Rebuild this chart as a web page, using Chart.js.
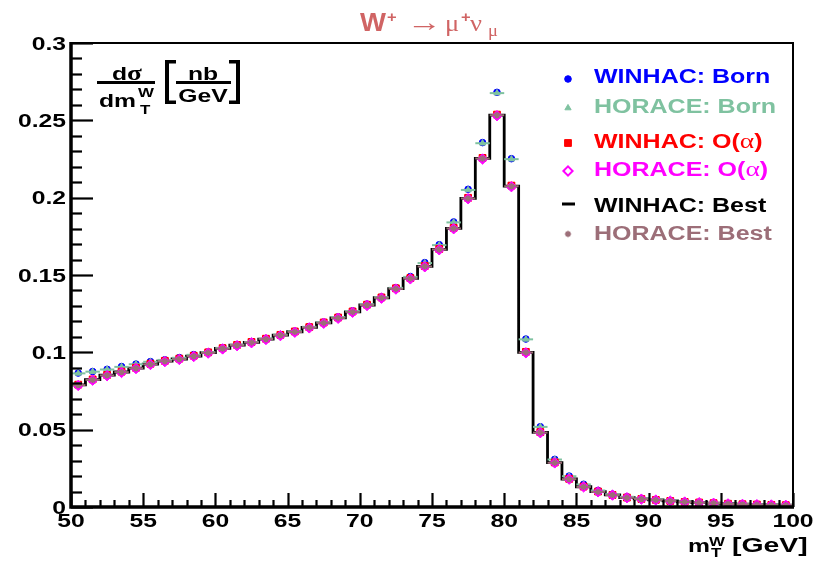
<!DOCTYPE html>
<html><head><meta charset="utf-8">
<script src="https://cdn.jsdelivr.net/npm/chart.js@4/dist/chart.umd.min.js"></script>
<style>html,body{margin:0;padding:0;background:#fff;}canvas{display:block;}</style>
</head><body>
<canvas id="c" width="831" height="562"></canvas>
<script>
// ---------- DATA ----------
const binEdges = [50,51,52,53,54,55,56,57,58,59,60,61,62,63,64,65,66,67,68,69,70,71,72,73,74,75,76,77,78,79,80,81,82,83,84,85,86,87,88,89,90,91,92,93,94,95,96,97,98,99,100];
const xTickValues = [50,55,60,65,70,75,80,85,90,95,100];
const xTickLabels = ['50','55','60','65','70','75','80','85','90','95','100'];
const yTickValues = [0,0.05,0.1,0.15,0.2,0.25,0.3];
const yTickLabels = ['0','0.05','0.1','0.15','0.2','0.25','0.3'];
const seriesLabels = ['WINHAC: Born','HORACE: Born','WINHAC: O(α)','HORACE: O(α)','WINHAC: Best','HORACE: Best'];

const winhacBorn = [0.0866,0.0876,0.0890,0.0908,0.0924,0.0940,0.0952,0.0966,0.0985,0.1002,
  0.1030,0.1050,0.1068,0.1090,0.1115,0.1137,0.1166,0.1196,0.1229,0.1268,
  0.1312,0.1358,0.1418,0.1490,0.1580,0.1696,0.1843,0.2054,0.2356,0.2681,
  0.2252,0.1086,0.0519,0.0308,0.0200,0.0147,0.0107,0.0083,0.0066,0.0055,
  0.0048,0.0041,0.0035,0.0030,0.0026,0.0022,0.0019,0.0017,0.0015,0.0013];
const horaceBorn = [0.0864,0.0875,0.0889,0.0906,0.0923,0.0939,0.0951,0.0965,0.0984,0.1001,
  0.1029,0.1049,0.1067,0.1089,0.1114,0.1136,0.1165,0.1195,0.1228,0.1267,
  0.1311,0.1357,0.1417,0.1488,0.1577,0.1693,0.1840,0.2050,0.2352,0.2676,
  0.2249,0.1084,0.0518,0.0307,0.0199,0.0146,0.0107,0.0083,0.0066,0.0055,
  0.0048,0.0041,0.0035,0.0030,0.0026,0.0022,0.0019,0.0017,0.0015,0.0013];
const winhacOalpha = [0.0791,0.0825,0.0854,0.0875,0.0900,0.0926,0.0945,0.0959,0.0978,0.1000,
  0.1027,0.1048,0.1067,0.1088,0.1113,0.1135,0.1163,0.1193,0.1225,0.1264,
  0.1308,0.1355,0.1414,0.1480,0.1558,0.1668,0.1805,0.1999,0.2257,0.2537,
  0.2078,0.1003,0.0484,0.0288,0.0182,0.0132,0.0100,0.0078,0.0061,0.0052,
  0.0046,0.0039,0.0033,0.0029,0.0025,0.0021,0.0018,0.0016,0.0014,0.0012];
const horaceOalpha = [0.0786,0.0820,0.0849,0.0870,0.0895,0.0921,0.0940,0.0954,0.0973,0.0995,
  0.1022,0.1043,0.1062,0.1083,0.1108,0.1130,0.1158,0.1188,0.1220,0.1259,
  0.1303,0.1350,0.1409,0.1475,0.1553,0.1663,0.1799,0.1993,0.2250,0.2530,
  0.2071,0.0997,0.0480,0.0285,0.0180,0.0130,0.0098,0.0077,0.0060,0.0051,
  0.0045,0.0038,0.0032,0.0028,0.0024,0.0020,0.0017,0.0015,0.0013,0.0011];
const winhacBest = [0.0789,0.0823,0.0852,0.0873,0.0898,0.0924,0.0943,0.0957,0.0976,0.0998,
  0.1025,0.1046,0.1065,0.1086,0.1111,0.1133,0.1161,0.1191,0.1223,0.1262,
  0.1306,0.1353,0.1412,0.1478,0.1556,0.1666,0.1802,0.1996,0.2254,0.2534,
  0.2075,0.1000,0.0482,0.0287,0.0181,0.0131,0.0099,0.0078,0.0061,0.0052,
  0.0046,0.0039,0.0033,0.0029,0.0025,0.0021,0.0018,0.0016,0.0014,0.0012];
const horaceBest = [0.0788,0.0822,0.0851,0.0872,0.0897,0.0923,0.0942,0.0956,0.0975,0.0997,
  0.1024,0.1045,0.1064,0.1085,0.1110,0.1132,0.1160,0.1190,0.1222,0.1261,
  0.1305,0.1352,0.1411,0.1477,0.1555,0.1665,0.1801,0.1995,0.2253,0.2533,
  0.2074,0.0999,0.0481,0.0286,0.0180,0.0130,0.0098,0.0077,0.0060,0.0051,
  0.0045,0.0038,0.0032,0.0028,0.0024,0.0020,0.0017,0.0015,0.0013,0.0011];

// ---------- helpers ----------
const centers = binEdges.slice(0, -1).map((e, i) => (e + binEdges[i + 1]) / 2);
const pts = arr => arr.map((v, i) => ({x: centers[i], y: v}));
const histPts = arr => binEdges.map((e, i) => ({x: e, y: arr[Math.min(i, arr.length - 1)]}));

const C_BLUE = '#0000ff', C_TEAL = '#7fc2a0', C_RED = '#ff0000', C_MAG = '#ff00ff', C_BLK = '#000000', C_BRN = '#9c6e78', C_TITLE = '#d06464';
const SANS = '"Liberation Sans", Arial, Helvetica, sans-serif';
const SERIF = '"Liberation Serif", "DejaVu Serif", serif';

function drawText(ctx, s, x, y, font, color, sx) {
  ctx.save();
  ctx.font = font; ctx.fillStyle = color; ctx.textBaseline = 'alphabetic'; ctx.textAlign = 'left';
  const w = ctx.measureText(s).width * sx;
  ctx.translate(x, y); ctx.scale(sx, 1); ctx.fillText(s, 0, 0);
  ctx.restore();
  return w;
}
function textWidth(ctx, s, font, sx) { ctx.save(); ctx.font = font; const w = ctx.measureText(s).width * sx; ctx.restore(); return w; }
function drawMixed(ctx, s, x, y, size, color, sx) {
  let cx = x;
  const parts = s.split(/([α-ωΑ-Ω])/);
  for (const p of parts) {
    if (!p) continue;
    const greek = /[α-ωΑ-Ω]/.test(p);
    const font = greek ? `${size + 2}px ${SERIF}` : `bold ${size}px ${SANS}`;
    cx += drawText(ctx, p, cx, y, font, color, sx);
  }
  return cx - x;
}
function marker(ctx, style, r, x, y, color, bw, fill) {
  ctx.save();
  ctx.fillStyle = fill || color; ctx.strokeStyle = color; ctx.lineWidth = bw || 1;
  if (Chart.helpers && Chart.helpers.drawPoint) {
    Chart.helpers.drawPoint(ctx, {pointStyle: style, radius: r, rotation: 0, borderWidth: bw || 1}, x, y);
  } else {
    ctx.beginPath(); ctx.arc(x, y, r, 0, Math.PI * 2); ctx.fill();
  }
  ctx.restore();
}

// ---------- plugin: ROOT-like frame, ticks, texts, legend, x-bars ----------
const rootPlugin = {
  id: 'rootStyle',
  afterDatasetDraw(chart, args) {
    const ds = chart.data.datasets[args.index];
    if (!ds.xBars) return;
    const ctx = chart.ctx, xs = chart.scales.x, ys = chart.scales.y;
    ctx.save();
    ctx.strokeStyle = ds.borderColor; ctx.lineWidth = 2;
    ds.data.forEach((p, i) => {
      const y = ys.getPixelForValue(p.y);
      ctx.beginPath();
      ctx.moveTo(xs.getPixelForValue(binEdges[i]), y);
      ctx.lineTo(xs.getPixelForValue(binEdges[i + 1]), y);
      ctx.stroke();
    });
    ctx.restore();
  },
  afterDraw(chart) {
    const ctx = chart.ctx, a = chart.chartArea, xs = chart.scales.x, ys = chart.scales.y;
    ctx.save();
    ctx.strokeStyle = '#000';
    ctx.lineWidth = 2;
    ctx.beginPath(); ctx.moveTo(a.left, a.top); ctx.lineTo(a.right, a.top); ctx.lineTo(a.right, a.bottom); ctx.stroke();
    ctx.lineWidth = 3.5;
    ctx.beginPath(); ctx.moveTo(a.left, a.top - 1); ctx.lineTo(a.left, a.bottom); ctx.lineTo(a.right + 1, a.bottom); ctx.stroke();
    ctx.lineWidth = 2.2;
    for (let v = 0; v <= 0.3001; v += 0.01) {
      const y = Math.round(ys.getPixelForValue(v)) + 0.5;
      const major = Math.abs(v / 0.05 - Math.round(v / 0.05)) < 1e-6;
      ctx.beginPath(); ctx.moveTo(a.left, y); ctx.lineTo(a.left + (major ? 22 : 11), y); ctx.stroke();
    }
    for (let v = 50; v <= 100; v += 1) {
      const x = Math.round(xs.getPixelForValue(v)) + 0.5;
      const major = v % 5 === 0;
      ctx.beginPath(); ctx.moveTo(x, a.bottom); ctx.lineTo(x, a.bottom - (major ? 14 : 7)); ctx.stroke();
    }
    const tf = `bold 19px ${SANS}`, tsx = 1.3;
    yTickValues.forEach((v, i) => {
      const s = yTickLabels[i];
      const w = textWidth(ctx, s, tf, tsx);
      drawText(ctx, s, 66 - w, ys.getPixelForValue(v) + 6.8, tf, '#000', tsx);
    });
    xTickValues.forEach((v, i) => {
      const s = xTickLabels[i];
      const w = textWidth(ctx, s, tf, tsx);
      drawText(ctx, s, xs.getPixelForValue(v) - w / 2, 527, tf, '#000', tsx);
    });
    // x-axis title
    drawText(ctx, 'm', 688, 552, `bold 19px ${SANS}`, '#000', 1.3);
    drawText(ctx, 'W', 709, 546, `bold 13px ${SANS}`, '#000', 1.3);
    drawText(ctx, 'T', 711, 557, `bold 13px ${SANS}`, '#000', 1.3);
    drawText(ctx, '[GeV]', 732, 552, `bold 20px ${SANS}`, '#000', 1.42);
    // y-axis title
    let w = drawText(ctx, 'd', 112, 80, `bold 19px ${SANS}`, '#000', 1.3);
    drawText(ctx, 'σ', 112 + w, 80, `bold 21px ${SERIF}`, '#000', 1.3);
    ctx.fillStyle = '#000';
    ctx.fillRect(97, 81, 58, 3);
    drawText(ctx, 'dm', 99, 107, `bold 19px ${SANS}`, '#000', 1.3);
    drawText(ctx, 'W', 138, 97, `bold 13px ${SANS}`, '#000', 1.3);
    drawText(ctx, 'T', 140, 114, `bold 13px ${SANS}`, '#000', 1.3);
    ctx.fillRect(165, 60, 4, 44); ctx.fillRect(165, 60, 11, 3.5); ctx.fillRect(165, 100.5, 11, 3.5);
    ctx.fillRect(236, 60, 4, 44); ctx.fillRect(229, 60, 11, 3.5); ctx.fillRect(229, 100.5, 11, 3.5);
    const nbW = textWidth(ctx, 'nb', `bold 19px ${SANS}`, 1.3);
    drawText(ctx, 'nb', 203 - nbW / 2, 80, `bold 19px ${SANS}`, '#000', 1.3);
    ctx.fillRect(176, 81, 55, 3);
    const gW = textWidth(ctx, 'GeV', `bold 19px ${SANS}`, 1.3);
    drawText(ctx, 'GeV', 203 - gW / 2, 102, `bold 19px ${SANS}`, '#000', 1.3);
    // title
    drawText(ctx, 'W', 360, 31, `bold 25px ${SANS}`, C_TITLE, 1.1);
    drawText(ctx, '+', 387, 22, `bold 15px ${SANS}`, C_TITLE, 1.1);
    drawText(ctx, '→', 407, 31, `26px ${SERIF}`, C_TITLE, 1.35);
    drawText(ctx, 'μ', 445, 31, `23px ${SERIF}`, C_TITLE, 1.15);
    drawText(ctx, '+', 461, 22, `bold 15px ${SANS}`, C_TITLE, 1.1);
    drawText(ctx, 'ν', 470, 31, `23px ${SERIF}`, C_TITLE, 1.15);
    drawText(ctx, 'μ', 488, 36, `16px ${SERIF}`, C_TITLE, 1.15);
    // legend
    const rows = [[79, 83], [108, 113], [143, 148], [171, 176], [204, 212], [234, 240]];
    chart.data.datasets.forEach((ds, i) => {
      const [my, ty] = rows[i];
      if (ds.legendDash) {
        ctx.fillStyle = ds.borderColor; ctx.fillRect(562, my - 1.5, 13, 3);
      } else {
        marker(ctx, ds.pointStyle, ds.legendRadius || ds.pointRadius, 568, my, ds.borderColor, ds.legendBorder || ds.pointBorderWidth || 1, ds.legendFill);
      }
      drawMixed(ctx, ds.label, 594, ty, 20, ds.borderColor, 1.25);
    });
    ctx.restore();
  }
};

// ---------- chart ----------
new Chart(document.getElementById('c'), {
  type: 'scatter',
  data: {
    datasets: [
      {label: seriesLabels[0], data: pts(winhacBorn), pointStyle: 'circle', pointRadius: 3.3, backgroundColor: C_BLUE, borderColor: C_BLUE, order: 5},
      {label: seriesLabels[1], data: pts(horaceBorn), pointStyle: 'triangle', pointRadius: 3.6, backgroundColor: C_TEAL, borderColor: C_TEAL, order: 4, xBars: true},
      {label: seriesLabels[2], data: pts(winhacOalpha), pointStyle: 'rect', pointRadius: 4.8, backgroundColor: C_RED, borderColor: C_RED, order: 3},
      {label: seriesLabels[3], data: pts(horaceOalpha), pointStyle: 'rectRot', pointRadius: 5.2, backgroundColor: C_MAG, borderColor: C_MAG, order: 2, legendRadius: 4.6, legendFill: '#ffffff', legendBorder: 2},
      {label: seriesLabels[4], data: histPts(winhacBest), type: 'line', showLine: true, stepped: 'before', borderColor: C_BLK, backgroundColor: C_BLK, borderWidth: 2.8, pointRadius: 0, fill: false, order: 6, legendDash: true},
      {label: seriesLabels[5], data: pts(horaceBest), pointStyle: 'star', pointRadius: 3.2, pointBorderWidth: 1.5, backgroundColor: C_BRN, borderColor: C_BRN, order: 1, xBars: true}
    ]
  },
  options: {
    responsive: false,
    animation: false,
    devicePixelRatio: 1,
    layout: {padding: {left: 71, top: 43, right: 38, bottom: 55}},
    scales: {
      x: {type: 'linear', min: 50, max: 100, display: false},
      y: {type: 'linear', min: 0, max: 0.3, display: false}
    },
    plugins: {legend: {display: false}, tooltip: {enabled: false}},
    elements: {point: {borderWidth: 1}}
  },
  plugins: [rootPlugin]
});
</script>
</body></html>
